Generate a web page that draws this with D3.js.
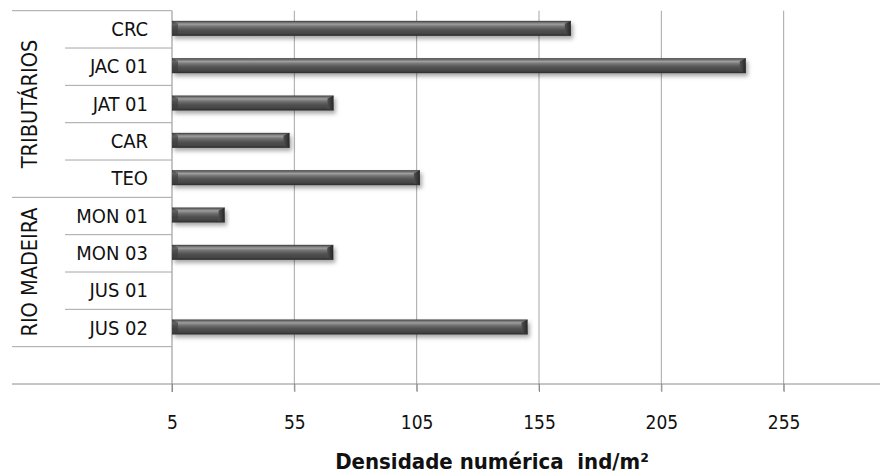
<!DOCTYPE html>
<html>
<head>
<meta charset="utf-8">
<script src="https://cdn.jsdelivr.net/npm/d3@7"></script>
<style>
  html, body { margin: 0; padding: 0; background: #fff; }
  svg { display: block; overflow: hidden; }
  text { font-family: "DejaVu Sans Condensed", "DejaVu Sans", sans-serif; fill: #111; }
</style>
</head>
<body>
<svg id="chart" width="880" height="474"></svg>
<script>
// Density per sampling site (ind/m²)
const categories = ["CRC", "JAC 01", "JAT 01", "CAR", "TEO", "MON 01", "MON 03", "JUS 01", "JUS 02", ""];
const values = [168, 239.5, 71, 53, 106.3, 26.5, 70.9, 5, 150.3, null];
const groups = [
  { name: "TRIBUTÁRIOS", first: 0, last: 4 },
  { name: "RIO MADEIRA", first: 5, last: 8 },
  { name: "", first: 9, last: 9 }
];
const tickValues = [5, 55, 105, 155, 205, 255];
const axisTitle = "Densidade numérica  ind/m²";

const svg = d3.select("#chart");
const W = 880;
const plot = { left: 172, top: 10.7, bottom: 384 };

const x = d3.scaleLinear().domain([5, 305]).range([plot.left, 906]);
const y = d3.scaleBand().domain(d3.range(categories.length))
  .range([plot.top, plot.bottom]).paddingInner(0).paddingOuter(0);

const defs = svg.append("defs");
const grad = defs.append("linearGradient").attr("id", "barFill")
  .attr("x1", 0).attr("y1", 0).attr("x2", 0).attr("y2", 1);
[[0, "#333"], [0.08, "#666"], [0.22, "#9e9e9e"], [0.38, "#727272"], [0.6, "#525252"], [0.85, "#444"], [1, "#2a2a2a"]]
  .forEach(([o, c]) => grad.append("stop").attr("offset", o).attr("stop-color", c));

const endGrad = defs.append("linearGradient").attr("id", "endFill")
  .attr("x1", 0).attr("y1", 0).attr("x2", 1).attr("y2", 0);
[[0, "#505050"], [1, "#262626"]].forEach(([o, c]) => endGrad.append("stop").attr("offset", o).attr("stop-color", c));

const shadow = defs.append("filter").attr("id", "shadow")
  .attr("x", "-5%").attr("y", "-50%").attr("width", "115%").attr("height", "250%");
shadow.append("feDropShadow").attr("dx", 2).attr("dy", 3).attr("stdDeviation", 2)
  .attr("flood-color", "#000").attr("flood-opacity", 0.35);

// vertical gridlines
svg.append("g").selectAll("line").data(tickValues.slice(1)).join("line")
  .attr("x1", d => x(d)).attr("x2", d => x(d))
  .attr("y1", plot.top).attr("y2", plot.bottom + 7)
  .attr("stroke", "#a6a6a6").attr("stroke-width", 1);

// horizontal axis with ticks
const xAxis = d3.axisBottom(x).tickValues(tickValues).tickSize(8).tickPadding(24).tickFormat(d3.format("d"));
const gx = svg.append("g").attr("transform", `translate(0,${plot.bottom})`).call(xAxis);
gx.select(".domain").remove();
gx.selectAll(".tick line").attr("stroke", "#8c8c8c");
gx.selectAll(".tick text").attr("font-size", 19).attr("fill", "#111")
  .style("font-family", '"DejaVu Sans Condensed", "DejaVu Sans", sans-serif');
svg.append("line").attr("x1", 12).attr("x2", W)
  .attr("y1", plot.bottom).attr("y2", plot.bottom)
  .attr("stroke", "#8c8c8c");

// vertical category axis
svg.append("line").attr("x1", plot.left).attr("x2", plot.left)
  .attr("y1", plot.top).attr("y2", plot.bottom + 8)
  .attr("stroke", "#8c8c8c");

// category separators (inner) and group separators (full width)
const groupStarts = new Set(groups.map(g => g.first));
svg.append("g").selectAll("line").data(d3.range(categories.length)).join("line")
  .attr("x1", i => groupStarts.has(i) ? 12 : 65).attr("x2", plot.left)
  .attr("y1", i => y(i)).attr("y2", i => y(i))
  .attr("stroke", "#a6a6a6");

// site labels
svg.append("g").selectAll("text").data(categories).join("text")
  .attr("x", 148).attr("y", (d, i) => y(i) + y.bandwidth() / 2 + 1)
  .attr("text-anchor", "end").attr("dominant-baseline", "middle")
  .attr("font-size", 20).text(d => d);

// group labels
svg.append("g").selectAll("text").data(groups).join("text")
  .attr("transform", g => `translate(37,${(y(g.first) + y(g.last) + y.bandwidth()) / 2}) rotate(-90)`)
  .attr("text-anchor", "middle").attr("font-size", 21.5).text(g => g.name);

// bars
const barH = 15;
const bars = svg.append("g").selectAll("g")
  .data(values.map((v, i) => ({ v, i })).filter(d => d.v != null)).join("g")
  .attr("filter", "url(#shadow)");
bars.append("rect")
  .attr("x", x(5)).attr("y", d => y(d.i) + y.bandwidth() / 2 - barH / 2 - 1)
  .attr("width", d => Math.max(0, x(d.v) - x(5))).attr("height", barH)
  .attr("fill", "url(#barFill)");
// bevelled ends
bars.filter(d => x(d.v) - x(5) > 12).append("path")
  .attr("d", d => {
    const x1 = x(d.v), y0 = y(d.i) + y.bandwidth() / 2 - barH / 2 - 1;
    return `M${x1 - 6},${y0 + 3} L${x1},${y0} L${x1},${y0 + barH} L${x1 - 6},${y0 + barH - 2} Z`;
  })
  .attr("fill", "url(#endFill)");
bars.filter(d => x(d.v) - x(5) > 12).append("path")
  .attr("d", d => {
    const x0 = x(5), y0 = y(d.i) + y.bandwidth() / 2 - barH / 2 - 1;
    return `M${x0},${y0} L${x0 + 6},${y0 + 3} L${x0 + 6},${y0 + barH - 2} L${x0},${y0 + barH} Z`;
  })
  .attr("fill", "#3a3a3a").attr("opacity", 0.6);

// axis title
svg.append("text").attr("x", 492).attr("y", 469)
  .attr("text-anchor", "middle").attr("font-size", 22).attr("font-weight", "bold")
  .style("font-family", '"DejaVu Sans Condensed", "DejaVu Sans", sans-serif')
  .style("white-space", "pre")
  .text(axisTitle);
</script>
</body>
</html>
